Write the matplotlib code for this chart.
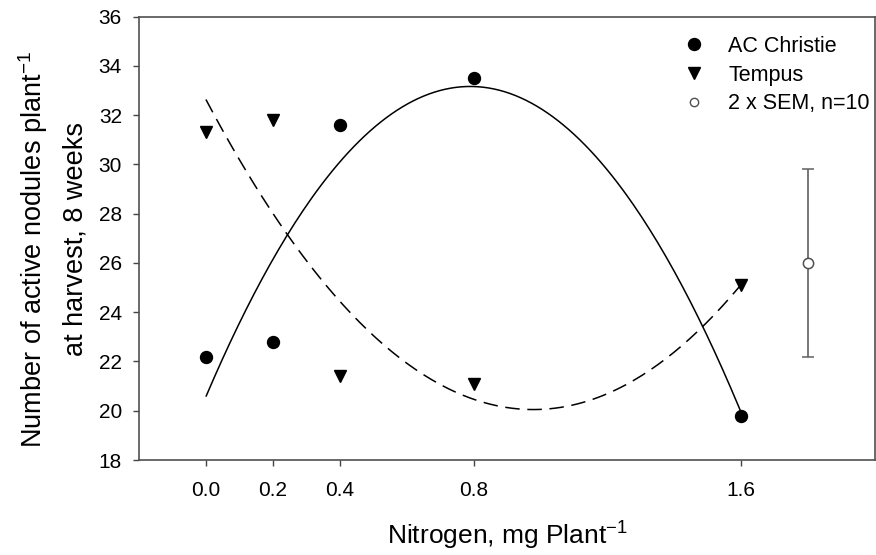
import numpy as np
import matplotlib
matplotlib.use("Agg")
import matplotlib.pyplot as plt
from matplotlib.lines import Line2D

plt.rcParams['font.family'] = ['Liberation Sans', 'DejaVu Sans']

# Data
nitrogen = [0.0, 0.2, 0.4, 0.8, 1.6]
ac_christie = [22.2, 22.8, 31.6, 33.5, 19.8]
tempus = [31.3, 31.8, 21.4, 21.1, 25.1]
sem_x = [1.8]
sem_y = [26.0]
sem_err = [3.8]
xtick_labels = ["0.0", "0.2", "0.4", "0.8", "1.6"]
yticks = [18, 20, 22, 24, 26, 28, 30, 32, 34, 36]

W, H = 876, 555
fig = plt.figure(figsize=(W/100, H/100), dpi=100)
ax = fig.add_axes([139/W, 1-460/H, (875-139)/W, (460-16.7)/H])

# quadratic regressions
xs = np.linspace(0, 1.6, 200)
pa = np.polyfit(nitrogen, ac_christie, 2)
pt = np.polyfit(nitrogen, tempus, 2)
ax.plot(xs, np.polyval(pa, xs), color='black', lw=1.1, solid_capstyle='butt')
ax.plot(xs, np.polyval(pt, xs), color='black', lw=1.1, dashes=(9.5, 5))

ax.plot(nitrogen, ac_christie, 'o', color='black', ms=8.6, ls='none')
ax.plot(nitrogen, tempus, 'v', color='black', ms=8.5, ls='none')
ax.errorbar(sem_x, sem_y, yerr=sem_err, fmt='o', mfc='white', mec='#505050',
            ecolor='#606060', ms=7.4, mew=1.1, elinewidth=1.2, capsize=4.6, capthick=1.2)

ax.set_xlim(-0.2, 2.0)
ax.set_ylim(18, 36)
ax.set_xticks(nitrogen)
ax.set_xticklabels(xtick_labels)
ax.set_yticks(yticks)
ax.tick_params(direction='out', length=4.3, width=1, colors='#444444', labelcolor='black',
               labelsize=15, pad=8)
ax.tick_params(axis='x', pad=11)
for s in ax.spines.values():
    s.set_color('#505050')
    s.set_linewidth(1.2)

ax.set_xlabel('Nitrogen, mg Plant$^{\\mathregular{-1}}$', fontsize=19, labelpad=13)
fig.text(33/W, 1-249.5/H, 'Number of active nodules plant$^{\\mathregular{-1}}$',
         rotation=90, ha='center', va='center', fontsize=19.5)
fig.text(76/W, 1-238.5/H, 'at harvest, 8 weeks',
         rotation=90, ha='center', va='center', fontsize=19.5)

handles = [Line2D([], [], marker='o', color='black', ls='none', ms=8.6),
           Line2D([], [], marker='v', color='black', ls='none', ms=8.5),
           Line2D([], [], marker='o', mfc='white', mec='#505050', mew=1.0, ls='none', ms=6)]
ax.legend(handles, ['AC Christie', 'Tempus', '2 x SEM, n=10'], loc='upper right',
          frameon=False, fontsize=15.5, handlelength=1.6, handletextpad=0.8,
          labelspacing=0.36, borderpad=0, borderaxespad=0,
          bbox_to_anchor=((870-139)/736, (460-36)/443.3))

fig.savefig('out.png', dpi=100)
